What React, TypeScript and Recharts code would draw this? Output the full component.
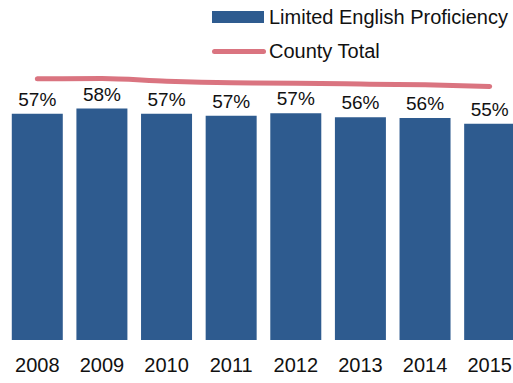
import React from 'react';
import { ComposedChart, Bar, Line, XAxis, YAxis, LabelList, Legend } from 'recharts';

const years = ['2008', '2009', '2010', '2011', '2012', '2013', '2014', '2015'];
const lepValues = [57.1, 58.4, 57.1, 56.6, 57.2, 56.2, 56.0, 54.6];
const countyValues = [65.9, 66.0, 65.3, 64.9, 64.8, 64.6, 64.4, 64.0];

const BAR_COLOR = '#2e5b8f';
const LINE_COLOR = '#da7480';
const FONT = '"Liberation Sans", Arial, Helvetica, sans-serif';

const chartData = years.map((year, i) => ({
    year,
    lep: lepValues[i],
    county: countyValues[i],
}));

function LegendBox() {
    return (
        <div style={{ fontFamily: FONT, fontSize: 20, color: '#111', lineHeight: '24px' }}>
            <div style={{ display: 'flex', alignItems: 'center', height: 24 }}>
                <span style={{ display: 'inline-block', width: 52, height: 12, background: BAR_COLOR, marginRight: 5 }} />
                <span>Limited English Proficiency</span>
            </div>
            <div style={{ display: 'flex', alignItems: 'center', height: 24, marginTop: 10 }}>
                <span style={{ display: 'inline-block', width: 54, height: 5, borderRadius: 3, background: LINE_COLOR, marginRight: 3 }} />
                <span>County Total</span>
            </div>
        </div>
    );
}

export default function App() {
    return (
        <div style={{ position: 'fixed', left: 0, top: 0, width: 513, height: 383, overflow: 'hidden', background: '#fff' }}>
            <ComposedChart
                width={522}
                height={383}
                data={chartData}
                margin={{ top: 23, right: 0, left: 5, bottom: 0 }}
                barCategoryGap="10.5%"
            >
                <XAxis
                    dataKey="year"
                    axisLine={false}
                    tickLine={false}
                    height={43}
                    tickMargin={12}
                    interval={0}
                    tick={{ fontSize: 20, fill: '#111', fontFamily: FONT }}
                />
                <YAxis hide domain={[0, 80]} />
                <Legend
                    layout="horizontal"
                    verticalAlign="middle"
                    align="center"
                    wrapperStyle={{ top: 5, left: 212, width: 300 }}
                    content={() => <LegendBox />}
                />
                <Bar dataKey="lep" fill={BAR_COLOR} isAnimationActive={false}>
                    <LabelList
                        dataKey="lep"
                        position="top"
                        offset={8}
                        formatter={(v: number) => `${Math.round(v)}%`}
                        style={{ fontSize: 19, fill: '#111', fontFamily: FONT }}
                    />
                </Bar>
                <Line
                    dataKey="county"
                    type="monotone"
                    stroke={LINE_COLOR}
                    strokeWidth={5}
                    strokeLinecap="round"
                    dot={false}
                    activeDot={false}
                    isAnimationActive={false}
                />
            </ComposedChart>
        </div>
    );
}
